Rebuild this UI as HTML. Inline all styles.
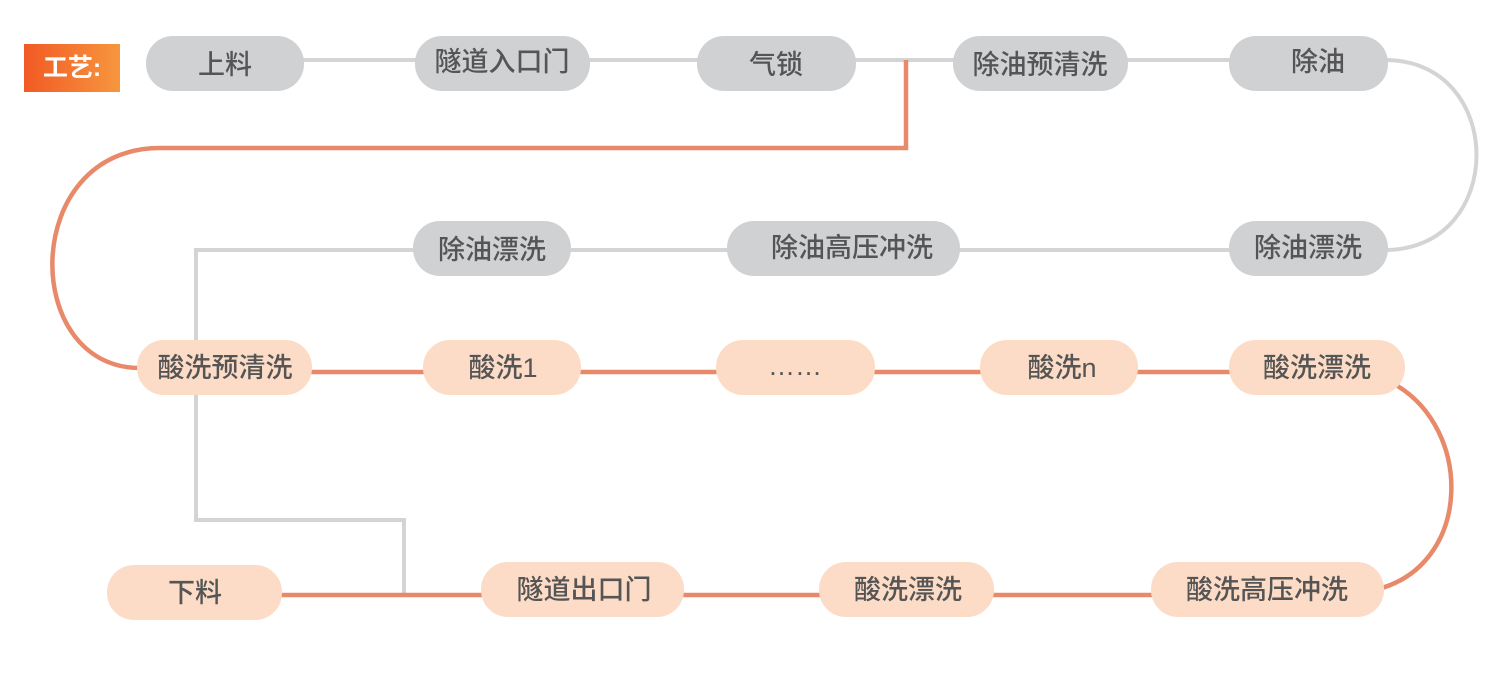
<!DOCTYPE html>
<html><head><meta charset="utf-8"><style>
body{margin:0;background:#fff;}
svg{display:block}
text{font-family:"Liberation Sans","Noto Sans CJK SC",sans-serif;font-size:27px;font-weight:500;fill:#555;text-anchor:middle;dominant-baseline:central}
</style></head><body>
<svg width="1509" height="699" viewBox="0 0 1509 699">
<defs><linearGradient id="g" x1="0" x2="1"><stop offset="0" stop-color="#f15a24"/><stop offset="1" stop-color="#f7963f"/></linearGradient></defs>
<g fill="none" stroke="#d4d4d6" stroke-width="4">
<path d="M300 60 H960"/><path d="M1120 60 H1240"/>
<path d="M1385 60 C1507 60 1507 250 1385 250"/>
<path d="M1390 250 H196 V520 H404 V595"/>
</g>
<g fill="none" stroke="#e8896a" stroke-width="4.5">
<path d="M906 60 V148 H160 C20 148 20 368 140 368"/>
<path d="M300 372 H1240"/>
<path d="M1396 385 C1472 430 1472 560 1382 588"/>
<path d="M270 595 H1160"/>
</g>
<rect x="24" y="44" width="96" height="48" fill="url(#g)"/>
<text x="72" y="68" style="fill:#fff;font-weight:bold;font-size:25px">工艺:</text>
<g fill="#d0d1d3">
<rect x="146" y="36" width="158" height="55" rx="27"/>
<rect x="415" y="36" width="175" height="55" rx="27"/>
<rect x="697" y="36" width="159" height="55" rx="27"/>
<rect x="953" y="36" width="175" height="55" rx="27"/>
<rect x="1229" y="36" width="159" height="55" rx="27"/>
<rect x="413" y="221" width="158" height="55" rx="27"/>
<rect x="727" y="221" width="233" height="55" rx="27"/>
<rect x="1229" y="221" width="159" height="55" rx="27"/>
</g>
<g fill="#fcdcc6">
<rect x="137" y="340" width="175" height="55" rx="27"/>
<rect x="423" y="340" width="158" height="55" rx="27"/>
<rect x="716" y="340" width="159" height="55" rx="27"/>
<rect x="980" y="340" width="158" height="55" rx="27"/>
<rect x="1229" y="340" width="176" height="55" rx="27"/>
<rect x="107" y="565" width="175" height="55" rx="27"/>
<rect x="481" y="562" width="203" height="55" rx="27"/>
<rect x="819" y="562" width="175" height="55" rx="27"/>
<rect x="1151" y="562" width="233" height="55" rx="27"/>
</g>
<text x="225" y="65">上料</text>
<text x="502" y="62">隧道入口门</text>
<text x="776" y="65">气锁</text>
<text x="1040" y="65">除油预清洗</text>
<text x="1318" y="62">除油</text>
<text x="492" y="250">除油漂洗</text>
<text x="852" y="248">除油高压冲洗</text>
<text x="1308" y="248">除油漂洗</text>
<text x="225" y="368">酸洗预清洗</text>
<text x="503" y="368">酸洗1</text>
<text x="795" y="366">……</text>
<text x="1062" y="368">酸洗n</text>
<text x="1317" y="368">酸洗漂洗</text>
<text x="195" y="593">下料</text>
<text x="584" y="590">隧道出口门</text>
<text x="908" y="590">酸洗漂洗</text>
<text x="1267" y="590">酸洗高压冲洗</text>
</svg>
</body></html>
